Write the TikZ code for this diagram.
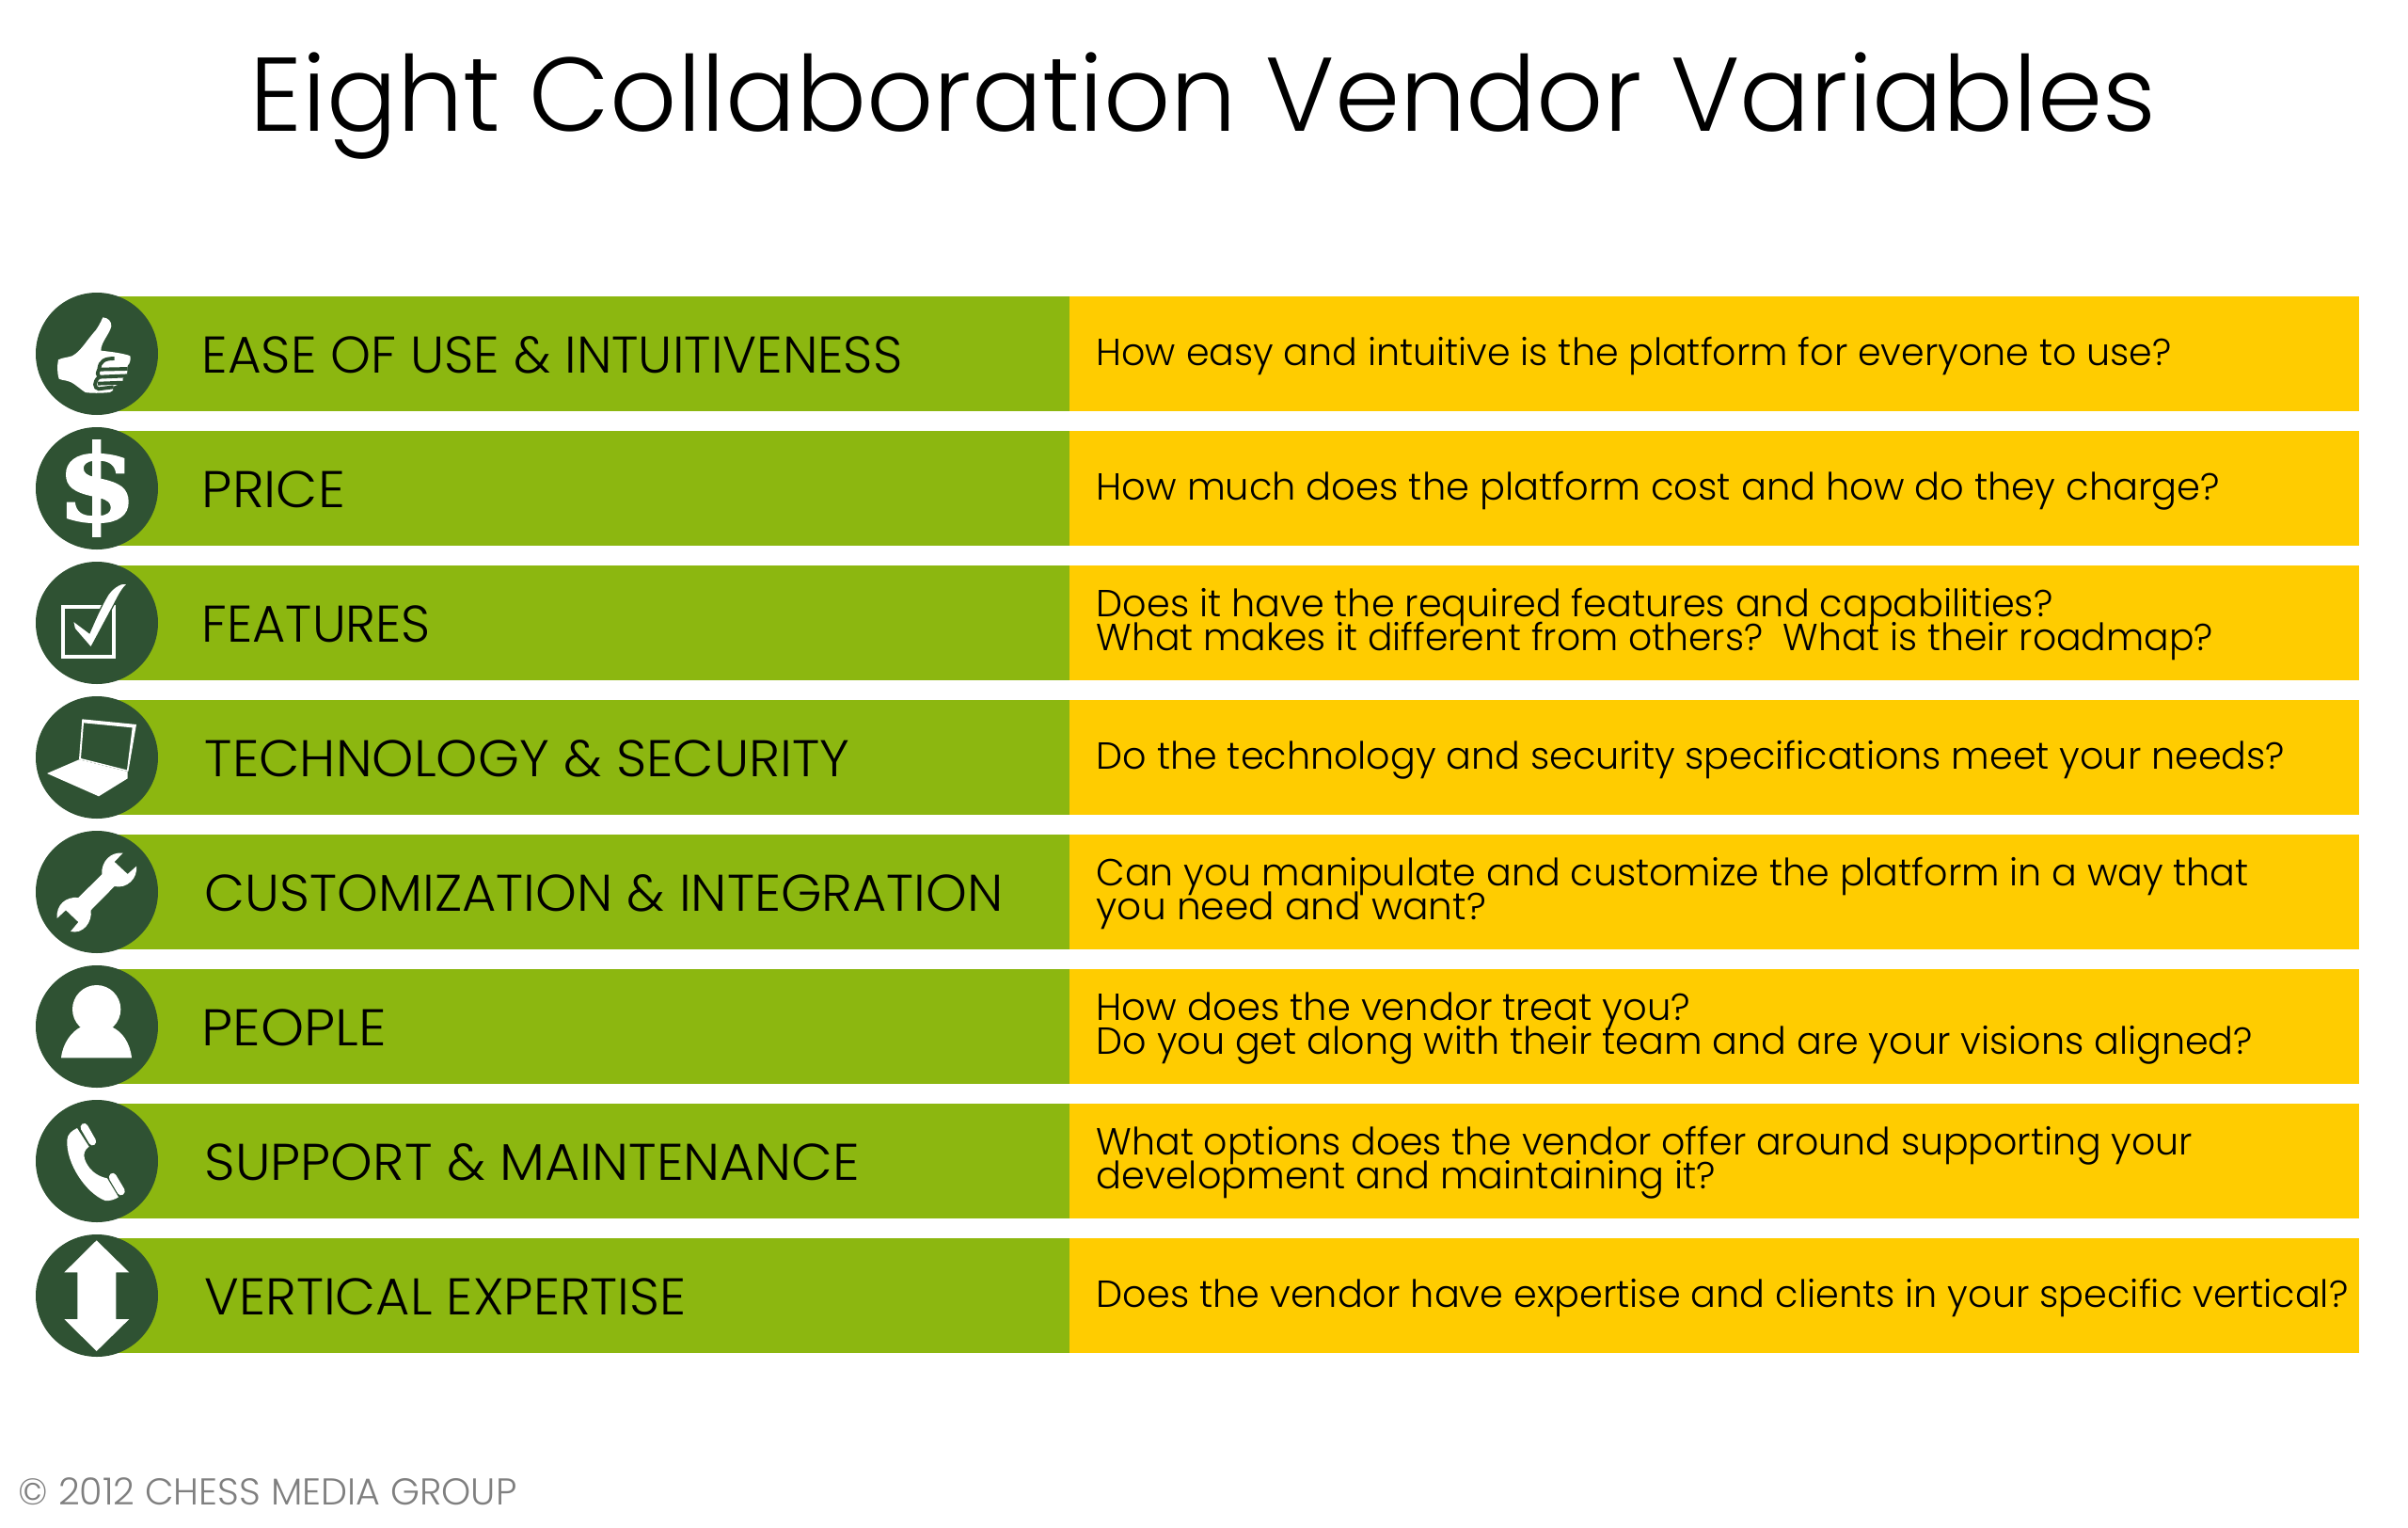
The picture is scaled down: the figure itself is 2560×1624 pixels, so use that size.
\documentclass[tikz,border=0pt]{standalone}
\usepackage{fontspec}
\setmainfont{Poppins Light}
\newfontfamily\dollarfont{DejaVu Serif}[BoldFont={DejaVu Serif Bold},BoldFeatures={FakeBold=1.5}]
\definecolor{barGreen}{HTML}{8CB710}
\definecolor{barYellow}{HTML}{FFCC00}
\definecolor{iconDark}{HTML}{2F5233}
\definecolor{copyGrey}{HTML}{7F7F7F}
\newcommand{\wfit}[2]{\scalebox{#1}[1]{#2}}
\newcommand{\tightlines}{\setlength{\lineskiplimit}{-20pt}\setlength{\lineskip}{0pt}}
\tikzset{
  greenbar/.style={fill=barGreen,draw=none,minimum width=1033*0.01cm,minimum height=122*0.01cm,inner sep=0,anchor=west},
  yellowbar/.style={fill=barYellow,draw=none,minimum width=1371*0.01cm,minimum height=122*0.01cm,inner sep=0,anchor=west},
  badge/.style={circle,fill=iconDark,draw=none,minimum size=130*0.01cm,inner sep=0},
  lefttext/.style={anchor=base west,inner sep=0,font=\fontsize{15.6}{18}\selectfont,text=black},
  righttext/.style={anchor=base west,inner sep=0,font=\fontsize{11.4}{10.05}\selectfont\tightlines,text=black,align=left},
  zoomframe/.style={x=0.01cm/3,y=-0.01cm/3},
}
\begin{document}
\begin{tikzpicture}[x=0.01cm,y=-0.01cm]
\useasboundingbox (0,0) rectangle (2560,1624);
\node[anchor=base,inner sep=0,font=\fontsize{31.65}{36}\selectfont] (title) at (1279,139) {Eight Collaboration Vendor Variables};
% rows
\foreach \n/\y in {a/376,b/519,c/662,d/805,e/948,f/1091,g/1234,h/1377}{
  \node[greenbar] (g\n) at (103,\y) {};
  \node[yellowbar] (y\n) at (1136,\y) {};
  \node[badge] (c\n) at (103,\y) {};
}
\node[lefttext] (la) at (214,396) {\wfit{0.996}{EASE OF USE \& INTUITIVENESS}};
\node[lefttext] (lb) at (214,539) {\wfit{1.045}{PRICE}};
\node[lefttext] (lc) at (214,682) {\wfit{0.987}{FEATURES}};
\node[lefttext] (ld) at (217,825) {\wfit{1.027}{TECHNOLOGY \& SECURITY}};
\node[lefttext] (le) at (217,968) {\wfit{1.016}{CUSTOMIZATION \& INTEGRATION}};
\node[lefttext] (lf) at (214,1111) {\wfit{1.07}{PEOPLE}};
\node[lefttext] (lg) at (217,1254) {\wfit{1.036}{SUPPORT \& MAINTENANCE}};
\node[lefttext] (lh) at (217,1397) {\wfit{1.016}{VERTICAL EXPERTISE}};
\node[righttext] (ra) at (1165,388) {\wfit{0.987}{How easy and intuitive is the platform for everyone to use?}};
\node[righttext] (rb) at (1165,531) {\wfit{0.997}{How much does the platform cost and how do they charge?}};
\node[righttext] (rc) at (1165,691) {\wfit{0.992}{Does it have the required features and capabilities?}\\\wfit{0.981}{What makes it different from others?~~What is their roadmap?}};
\node[righttext] (rd) at (1165,817) {\wfit{0.99}{Do the technology and security specifications meet your needs?}};
\node[righttext] (re) at (1165,977) {\wfit{0.988}{Can you manipulate and customize the platform in a way that}\\\wfit{1.016}{you need and want?}};
\node[righttext] (rf) at (1165,1120) {How does the vendor treat you?\\\wfit{0.99}{Do you get along with their team and are your visions aligned?}};
\node[righttext] (rg) at (1165,1263) {\wfit{0.985}{What options does the vendor offer around supporting your}\\\wfit{0.993}{development and maintaining it?}};
\node[righttext] (rh) at (1165,1389) {\wfit{0.993}{Does the vendor have expertise and clients in your specific vertical?}};
\node[anchor=base west,inner sep=0,font=\fontsize{11.28}{13}\selectfont,text=copyGrey] (copy) at (19,1599) {© 2012 CHESS MEDIA GROUP};
% thumb
\begin{scope}[shift={(20,300)},zoomframe]
\fill[white] (268,112) .. controls (285,113) and (296,125) .. (295,140) .. controls (290,165) and (262,190) .. (262,218) .. controls (300,222) and (340,228) .. (355,235) .. controls (358,245) and (355,258) .. (347,266) -- (345,298) -- (332,305) -- (332,320) -- (302,332) -- (300,345) -- (290,351) .. controls (260,354) and (230,354) .. (212,351) .. controls (195,340) and (180,325) .. (165,318) .. controls (150,312) and (135,312) .. (128,308) .. controls (122,290) and (122,265) .. (126,247) .. controls (140,240) and (155,240) .. (170,235) .. controls (195,222) and (210,195) .. (235,165) .. controls (250,150) and (260,130) .. (268,112) -- cycle;
\draw[iconDark,line width=1.1pt] (305,243) .. controls (275,243) and (258,250) .. (256,278) -- (347,276);
\draw[iconDark,line width=1.1pt] (256,278) .. controls (250,288) and (250,296) .. (256,302) -- (347,298);
\draw[iconDark,line width=1.1pt] (256,302) .. controls (238,318) and (240,338) .. (255,340) -- (302,334);
\draw[iconDark,line width=1.1pt] (252,323) -- (333,320);
\end{scope}
% dollar
\node[inner sep=0,text=white,font=\dollarfont\bfseries\fontsize{32}{34}\selectfont] (dollar) at (cb) {\scalebox{1.1}[1]{\$}};
% check box
\begin{scope}[shift={(20,300)},zoomframe]
\draw[white,line width=1.1pt] (141,1035) rectangle (302,1194);
\path[fill=white,draw=iconDark,line width=0.35pt] (172,1078) -- (225,1118) .. controls (240,1085) and (258,1040) .. (285,995) .. controls (303,970) and (330,955) .. (347,962) .. controls (330,975) and (318,1000) .. (305,1025) -- (230,1165) -- (178,1105) -- cycle;
\end{scope}
% laptop
\begin{scope}[shift={(20,730)},zoomframe]
\fill[white] (90,276) -- (192,232) -- (347,270) -- (347,292) -- (255,349) -- cycle;
\fill[white,even odd rule] (202,103) -- (375,120) -- (349,270) -- (192,232) -- cycle (207,115) -- (362,130) -- (345,265) -- (198,228) -- cycle;
\end{scope}
% wrench
\begin{scope}[shift={(20,730)},zoomframe]
\fill[white] (332,530) .. controls (295,525) and (262,555) .. (265,598) -- (190,672) .. controls (150,668) and (118,695) .. (122,738) -- (150,712) -- (190,750) -- (165,780) .. controls (205,790) and (235,750) .. (230,712) -- (305,636) .. controls (345,645) and (380,610) .. (375,572) -- (347,597) -- (305,558) -- cycle;
\end{scope}
% person
\begin{scope}[shift={(20,1020)},zoomframe]
\fill[white] (248,158) circle [radius=77*0.01cm/3];
\fill[white] (135,313) .. controls (140,265) and (170,228) .. (197,215) -- (298,215) .. controls (330,230) and (355,265) .. (360,313) -- cycle;
\end{scope}
% phone
\begin{scope}[shift={(20,1020)},zoomframe]
\fill[white] (186,537) -- (224,596) .. controls (210,605) and (205,620) .. (210,635) .. controls (220,665) and (245,690) .. (282,697) -- (318,757) .. controls (305,765) and (290,770) .. (275,768) .. controls (215,745) and (150,650) .. (154,575) .. controls (155,555) and (170,545) .. (186,537) -- cycle;
\fill[white,rounded corners=1.2pt] (192,530) -- (213,517) -- (251,584) -- (231,597) -- cycle;
\fill[white,rounded corners=1.2pt] (283,690) -- (303,675) -- (343,742) -- (322,756) -- cycle;
\end{scope}
% arrow
\begin{scope}[shift={(20,1300)},zoomframe]
\fill[white] (248,55) -- (352,157) -- (310,157) -- (310,306) -- (352,306) -- (248,408) -- (145,306) -- (187,306) -- (187,157) -- (145,157) -- cycle;
\end{scope}
\end{tikzpicture}
\end{document}
